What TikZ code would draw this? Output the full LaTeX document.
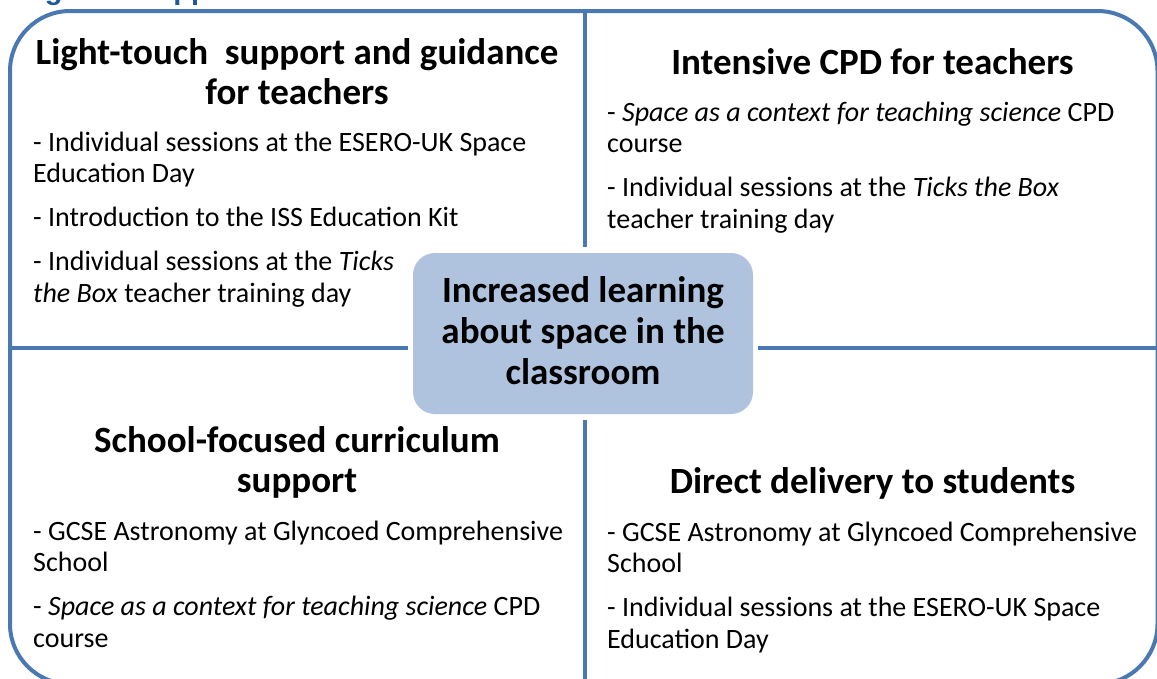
\documentclass[tikz,border=0pt]{standalone}
\usepackage{fontspec}
\setmainfont{Carlito}
\newfontfamily\titlefont{Liberation Sans}
\definecolor{linec}{HTML}{4A78B3}
\definecolor{boxc}{HTML}{B0C3DE}
\definecolor{titlec}{HTML}{1F5A98}
\begin{document}
\begin{tikzpicture}[x=1pt,y=-1pt,
  head/.style={font=\bfseries\fontsize{37}{40.5}\selectfont, inner sep=0pt, anchor=base},
  body/.style={font=\fontsize{28}{31.5}\selectfont, inner sep=0pt, anchor=base west},
  divider/.style={draw=linec, line width=4pt},
  hubbox/.style={fill=boxc, rounded corners=22pt, inner sep=0pt, minimum width=340pt, minimum height=161pt}]
\useasboundingbox (0,0) rectangle (1157,678);
% cut-off caption
\node[font=\titlefont\bfseries\fontsize{29}{33}\selectfont, text=titlec, inner sep=0pt, anchor=base west] (caption) at (19,-0.5) {Figure 1: Approaches taken in the case studies};
% frame
\draw[divider, rounded corners=60pt] (10,11) rectangle (1157.5,684);
% hub
\node[hubbox] (hub) at (583,333.5) {};
\coordinate (vtop) at (585,11);
\coordinate (vbot) at (585,684);
\coordinate (hleft) at (10,348);
\coordinate (hright) at (1157.5,348);
\draw[divider, shorten >=6pt] (vtop) -- (vtop |- hub.north);
\draw[divider, shorten >=6pt] (vbot) -- (vbot |- hub.south);
\draw[divider, shorten >=5pt] (hleft) -- (hleft -| hub.west);
\draw[divider, shorten >=5pt] (hright) -- (hright -| hub.east);
% hub text
\node[head] (hub1) at (583,302.7) {Increased learning};
\node[head] (hub2) at (583,343.3) {about space in the};
\node[head] (hub3) at (583,384) {classroom};
% top left
\node[head] (tlh1) at (297,64) {Light-touch\ \ support and guidance};
\node[head] (tlh2) at (297,104.5) {for teachers};
\node[body] (tl1) at (33,151) {- Individual sessions at the ESERO-UK Space};
\node[body] (tl2) at (33,182.5) {Education Day};
\node[body] (tl3) at (33,226.5) {- Introduction to the ISS Education Kit};
\node[body] (tl4) at (33,270.5) {- Individual sessions at the \textit{Ticks}};
\node[body] (tl5) at (33,302) {\textit{the Box} teacher training day};
% top right
\node[head] (trh1) at (872.5,74) {Intensive CPD for teachers};
\node[body] (tr1) at (607,121) {- \textit{Space as a context for teaching science} CPD};
\node[body] (tr2) at (607,152.5) {course};
\node[body] (tr3) at (607,196.5) {- Individual sessions at the \textit{Ticks the Box}};
\node[body] (tr4) at (607,228) {teacher training day};
% bottom left
\node[head] (blh1) at (297,452) {School-focused curriculum};
\node[head] (blh2) at (297,492.5) {support};
\node[body] (bl1) at (33,540) {- GCSE Astronomy at Glyncoed Comprehensive};
\node[body] (bl2) at (33,571.5) {School};
\node[body] (bl3) at (33,615.5) {- \textit{Space as a context for teaching science} CPD};
\node[body] (bl4) at (33,647) {course};
% bottom right
\node[head] (brh1) at (872.5,493) {Direct delivery to students};
\node[body] (br1) at (607,541) {- GCSE Astronomy at Glyncoed Comprehensive};
\node[body] (br2) at (607,572.5) {School};
\node[body] (br3) at (607,616.5) {- Individual sessions at the ESERO-UK Space};
\node[body] (br4) at (607,648) {Education Day};
\end{tikzpicture}
\end{document}
